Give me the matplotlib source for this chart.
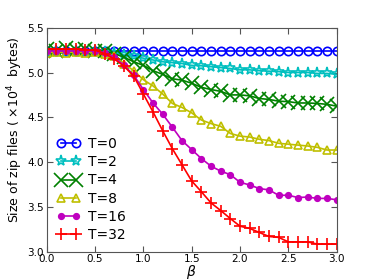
import matplotlib
matplotlib.use("Agg")
import matplotlib.pyplot as plt

# --- DATA ---
beta = [round(0.1 * i, 1) for i in range(31)]

t0 = [5.24] * 31
t2 = [5.23, 5.24, 5.23, 5.24, 5.23, 5.24, 5.23, 5.22, 5.195, 5.18, 5.16,
      5.14, 5.12, 5.11, 5.10, 5.08, 5.075, 5.065, 5.055, 5.045, 5.03,
      5.03, 5.02, 5.015, 5.01, 5.0, 5.0, 5.0, 4.99, 4.99, 4.98]
t4 = [5.26, 5.24, 5.27, 5.25, 5.26, 5.24, 5.24, 5.21, 5.17, 5.12, 5.08,
      5.02, 4.98, 4.93, 4.915, 4.88, 4.835, 4.81, 4.79, 4.75, 4.75,
      4.74, 4.71, 4.70, 4.68, 4.675, 4.66, 4.66, 4.655, 4.645, 4.625]
t8 = [5.22, 5.23, 5.22, 5.23, 5.22, 5.23, 5.21, 5.18, 5.10, 5.02, 4.92,
      4.85, 4.76, 4.655, 4.61, 4.55, 4.47, 4.43, 4.40, 4.32, 4.29,
      4.28, 4.255, 4.24, 4.21, 4.20, 4.19, 4.18, 4.165, 4.135, 4.135]
t16 = [5.24, 5.24, 5.24, 5.24, 5.24, 5.24, 5.22, 5.17, 5.08, 4.97, 4.81,
       4.66, 4.535, 4.39, 4.24, 4.14, 4.04, 3.955, 3.90, 3.86, 3.775,
       3.745, 3.705, 3.69, 3.63, 3.63, 3.605, 3.61, 3.595, 3.595, 3.58]
t32 = [5.26, 5.26, 5.26, 5.26, 5.255, 5.25, 5.21, 5.15, 5.07, 4.96, 4.76,
       4.56, 4.35, 4.15, 3.97, 3.79, 3.67, 3.545, 3.46, 3.37, 3.285,
       3.26, 3.215, 3.17, 3.16, 3.11, 3.11, 3.11, 3.085, 3.085, 3.085]

series = [
    ("T=0", t0, "#0000ff", "o", 6, "none"),
    ("T=2", t2, "#00bfbf", "*", 8, "none"),
    ("T=4", t4, "#008000", "x", 10, "none"),
    ("T=8", t8, "#bfbf00", "^", 6, "none"),
    ("T=16", t16, "#bf00bf", ".", 8, None),
    ("T=32", t32, "#ff0000", "+", 8, "none"),
]

fig = plt.figure(figsize=(3.74, 2.8), dpi=100)
ax = fig.add_axes([0.125, 0.101, 0.775, 0.8])

for label, ys, col, mk, ms, mfc in series:
    kw = dict(color=col, marker=mk, markersize=ms, linewidth=1.2,
              markeredgewidth=1.2, label=label)
    if mfc is not None:
        kw["markerfacecolor"] = mfc
    else:
        kw["markeredgecolor"] = col
    ax.plot(beta, ys, **kw)

ax.set_xlim(0, 3)
ax.set_ylim(3.0, 5.5)
ax.set_xticks([0, 0.5, 1.0, 1.5, 2.0, 2.5, 3.0])
ax.set_yticks([3.0, 3.5, 4.0, 4.5, 5.0, 5.5])
ax.set_xticklabels(["0.0", "0.5", "1.0", "1.5", "2.0", "2.5", "3.0"])
ax.set_yticklabels(["3.0", "3.5", "4.0", "4.5", "5.0", "5.5"])
ax.tick_params(direction="in", top=True, right=True, labelsize=7.5,
               length=4, color="#555555", pad=2)
for sp in ax.spines.values():
    sp.set_color("#555555")
ax.set_xlabel(r"$\beta$", fontsize=10, labelpad=-1)
ax.set_ylabel(r"Size of zip files ( $\times 10^4$  bytes)", fontsize=9)
ax.yaxis.set_label_coords(-0.075, 0.545)
ax.legend(loc="lower left", frameon=False, numpoints=2, fontsize=10,
          handlelength=1.7, handletextpad=0.6, labelspacing=0.3,
          borderaxespad=0.3, bbox_to_anchor=(0.0, 0.0))

fig.savefig("out.png", dpi=100, facecolor="white")
